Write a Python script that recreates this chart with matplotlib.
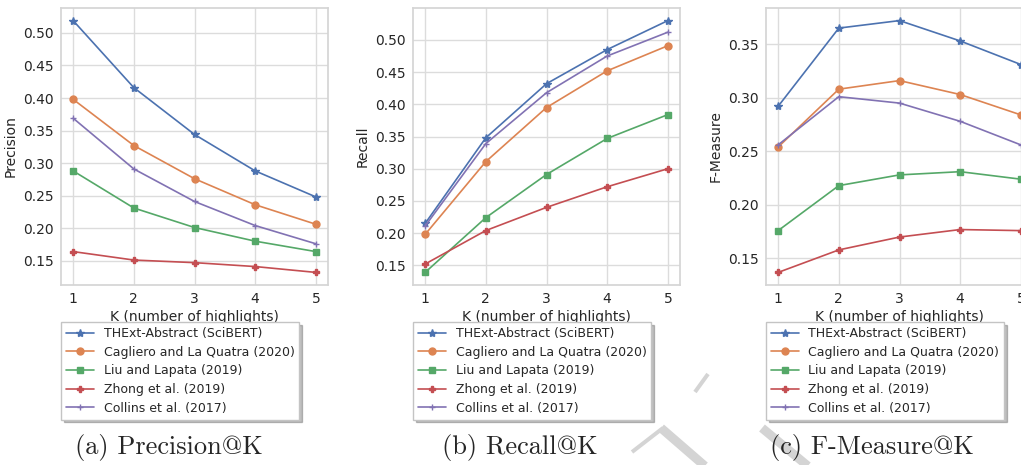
import numpy as np
import matplotlib
matplotlib.use("Agg")
import matplotlib.pyplot as plt
import seaborn as sns
from matplotlib.lines import Line2D

# datos
k = [1, 2, 3, 4, 5]

metodos = ["THExt-Abstract (SciBERT)", "Cagliero and La Quatra (2020)",
           "Liu and Lapata (2019)", "Zhong et al. (2019)", "Collins et al. (2017)"]
marcadores = ["*", "o", "s", "P", "+"]

precision_thext = [0.519, 0.416, 0.344, 0.288, 0.248]
precision_cagliero = [0.398, 0.327, 0.276, 0.236, 0.206]
precision_liu = [0.288, 0.231, 0.201, 0.180, 0.164]
precision_zhong = [0.164, 0.151, 0.147, 0.141, 0.132]
precision_collins = [0.369, 0.291, 0.241, 0.204, 0.176]

recall_thext = [0.215, 0.348, 0.432, 0.485, 0.530]
recall_cagliero = [0.198, 0.311, 0.395, 0.452, 0.491]
recall_liu = [0.139, 0.224, 0.291, 0.347, 0.384]
recall_zhong = [0.152, 0.204, 0.240, 0.272, 0.300]
recall_collins = [0.211, 0.339, 0.418, 0.475, 0.512]

f_thext = [0.292, 0.365, 0.372, 0.353, 0.331]
f_cagliero = [0.254, 0.308, 0.316, 0.303, 0.284]
f_liu = [0.176, 0.218, 0.228, 0.231, 0.224]
f_zhong = [0.137, 0.158, 0.170, 0.177, 0.176]
f_collins = [0.256, 0.301, 0.295, 0.278, 0.256]

paneles = [
    ("Precision", "(a) Precision@K",
     [precision_thext, precision_cagliero, precision_liu, precision_zhong, precision_collins]),
    ("Recall", "(b) Recall@K",
     [recall_thext, recall_cagliero, recall_liu, recall_zhong, recall_collins]),
    ("F-Measure", "(c) F-Measure@K",
     [f_thext, f_cagliero, f_liu, f_zhong, f_collins]),
]

sns.set_theme(style="whitegrid", palette="deep")
plt.rcParams["font.family"] = ["DejaVu Sans"]

W, H = 1021, 465
fig = plt.figure(figsize=(W / 100, H / 100), dpi=100)

# marca de agua gris (trazos diagonales)
agua = [((632, 452), (663, 428), 4), ((661, 428), (706, 467), 9),
        ((695, 392), (708, 374), 4), ((762, 428), (809, 467), 9)]
for (x0, y0), (x1, y1), lw in agua:
    fig.add_artist(Line2D([x0 / W, x1 / W], [1 - y0 / H, 1 - y1 / H],
                          transform=fig.transFigure, color="#d4d4d4",
                          lw=lw * 0.72, solid_capstyle="butt", zorder=0))

izquierdas = [61, 413, 766]
centros_titulo = [169, 520, 872]
colores = sns.color_palette("deep")

for (ylabel, titulo, series), izq, cx in zip(paneles, izquierdas, centros_titulo):
    ax = fig.add_axes([izq / W, (H - 285) / H, 267 / W, 277 / H])
    for i, (nombre, valores) in enumerate(zip(metodos, series)):
        ax.plot(k, valores, marker=marcadores[i], color=colores[i], lw=1.2,
                markersize=5 if marcadores[i] != "*" else 6, label=nombre)
    ax.set_xticks(k)
    ax.set_xlim(0.8, 5.2)
    ax.tick_params(labelsize=10, length=0, pad=5, colors="#262626")
    ax.set_xlabel("K (number of highlights)", fontsize=10, labelpad=3, color="#262626")
    ax.set_ylabel(ylabel, fontsize=10, labelpad=4, color="#262626")
    for s in ax.spines.values():
        s.set_color("#d5d5d5")
    ax.grid(color="#dcdcdc", lw=1)
    ax.legend(loc="upper left", bbox_to_anchor=(izq / W, 1 - 322 / H),
              bbox_transform=fig.transFigure, fontsize=9, fancybox=False,
              shadow={"alpha": 0.35}, frameon=True, edgecolor="#c4c4c4",
              borderaxespad=0, labelspacing=0.45, handlelength=2.2,
              framealpha=1)
    fig.text(cx / W, 1 - 447 / H, titulo, ha="center", va="center",
             fontsize=19, family=["cmr10", "DejaVu Serif"])

fig.savefig("out.png", dpi=100)
